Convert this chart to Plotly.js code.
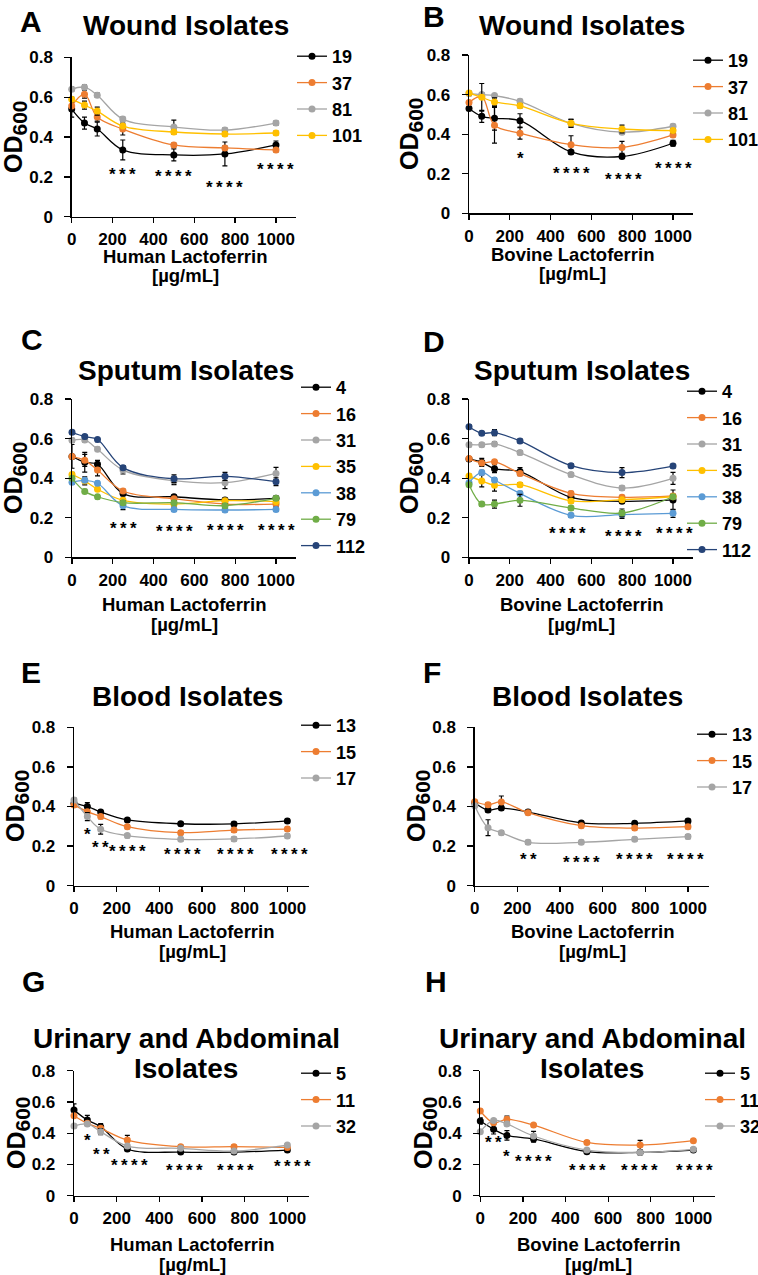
<!DOCTYPE html>
<html>
<head>
<meta charset="utf-8">
<script src="https://cdn.plot.ly/plotly-3.0.1.min.js"></script>
<style>
  html, body { margin: 0; padding: 0; background: #fff; }
  #chart { width: 758px; height: 1275px; }
</style>
</head>
<body>
<div id="chart"></div>
<script>
const W = 758, H = 1275;
const FONT = 'Liberation Sans, Arial, sans-serif';
const COLORS = ['#000000', '#ED7D31', '#A5A5A5', '#FFC000', '#5B9BD5', '#70AD47', '#264478'];

// lactoferrin dose, µg/mL
const DOSE = [0, 62.5, 125, 250, 500, 750, 1000];

// A - wound isolates, human LF
const woundIds = ['19', '37', '81', '101'];
const woundHumanMean = [
  [0.54, 0.47, 0.44, 0.335, 0.31, 0.315, 0.36],
  [0.555, 0.615, 0.50, 0.44, 0.36, 0.345, 0.335],
  [0.64, 0.65, 0.61, 0.49, 0.45, 0.435, 0.47],
  [0.59, 0.56, 0.53, 0.455, 0.425, 0.415, 0.42],
];
const woundHumanErr = [
  [0.04, 0.03, 0.035, 0.05, 0.03, 0.06, 0.02],
  [0.02, 0.02, 0.02, 0.03, 0.01, 0.01, 0.01],
  [0.01, 0.01, 0.01, 0.01, 0.035, 0.01, 0.01],
  [0.01, 0.02, 0.02, 0.01, 0.01, 0.01, 0.01],
];
const woundHumanSigX = [250, 500, 750, 1000];
const woundHumanSigY = [0.234, 0.221, 0.167, 0.259];
const woundHumanSig = ['***', '****', '****', '****'];

// B - wound isolates, bovine LF
const woundBovineMean = [
  [0.53, 0.49, 0.48, 0.468, 0.31, 0.287, 0.354],
  [0.56, 0.59, 0.445, 0.405, 0.347, 0.333, 0.396],
  [0.605, 0.60, 0.595, 0.566, 0.455, 0.41, 0.44],
  [0.608, 0.586, 0.563, 0.543, 0.455, 0.426, 0.418],
];
const woundBovineErr = [
  [0.01, 0.03, 0.06, 0.035, 0.01, 0.01, 0.015],
  [0.01, 0.01, 0.09, 0.03, 0.045, 0.03, 0.01],
  [0.01, 0.01, 0.01, 0.01, 0.02, 0.01, 0.01],
  [0.01, 0.07, 0.02, 0.01, 0.02, 0.02, 0.01],
];
const woundBovineSigX = [252, 502, 758, 1000];
const woundBovineSigY = [0.295, 0.219, 0.19, 0.249];
const woundBovineSig = ['*', '****', '****', '****'];

// C - sputum isolates, human LF
const sputumIds = ['4', '16', '31', '35', '38', '79', '112'];
const sputumHumanMean = [
  [0.51, 0.48, 0.47, 0.322, 0.306, 0.29, 0.298],
  [0.509, 0.49, 0.441, 0.335, 0.296, 0.269, 0.269],
  [0.591, 0.593, 0.546, 0.441, 0.387, 0.377, 0.424],
  [0.419, 0.386, 0.344, 0.288, 0.269, 0.286, 0.281],
  [0.379, 0.389, 0.374, 0.261, 0.242, 0.239, 0.242],
  [0.399, 0.333, 0.306, 0.276, 0.276, 0.261, 0.298],
  [0.632, 0.61, 0.595, 0.453, 0.397, 0.409, 0.382],
];
const sputumHumanErr = [
  [0.06, 0.05, 0.02, 0.01, 0.01, 0.01, 0.01],
  [0.01, 0.03, 0.03, 0.01, 0.01, 0.01, 0.01],
  [0.01, 0.01, 0.01, 0.02, 0.02, 0.03, 0.03],
  [0.01, 0.02, 0.01, 0.01, 0.01, 0.01, 0.01],
  [0.01, 0.01, 0.01, 0.02, 0.01, 0.01, 0.01],
  [0.01, 0.01, 0.01, 0.01, 0.01, 0.01, 0.01],
  [0.01, 0.01, 0.01, 0.01, 0.02, 0.02, 0.02],
];
const sputumHumanSigX = [250, 500, 750, 1000];
const sputumHumanSigY = [0.167, 0.152, 0.155, 0.155];
const sputumHumanSig = ['***', '****', '****', '****'];

// D - sputum isolates, bovine LF
const sputumBovineMean = [
  [0.497, 0.48, 0.448, 0.433, 0.303, 0.283, 0.29],
  [0.499, 0.477, 0.483, 0.424, 0.323, 0.303, 0.31],
  [0.569, 0.569, 0.573, 0.529, 0.418, 0.35, 0.399],
  [0.411, 0.386, 0.364, 0.367, 0.285, 0.291, 0.306],
  [0.377, 0.429, 0.391, 0.323, 0.212, 0.216, 0.222],
  [0.367, 0.269, 0.269, 0.288, 0.249, 0.224, 0.306],
  [0.66, 0.627, 0.63, 0.588, 0.463, 0.428, 0.461],
];
const sputumBovineErr = [
  [0.01, 0.02, 0.02, 0.02, 0.01, 0.01, 0.05],
  [0.01, 0.01, 0.01, 0.01, 0.01, 0.01, 0.01],
  [0.01, 0.01, 0.01, 0.01, 0.01, 0.01, 0.03],
  [0.01, 0.03, 0.03, 0.01, 0.01, 0.01, 0.01],
  [0.01, 0.01, 0.01, 0.01, 0.01, 0.02, 0.02],
  [0.01, 0.01, 0.02, 0.03, 0.01, 0.02, 0.01],
  [0.01, 0.01, 0.015, 0.01, 0.01, 0.025, 0.01],
];
const sputumBovineSigX = [485, 755, 1005];
const sputumBovineSigY = [0.138, 0.126, 0.138];
const sputumBovineSig = ['****', '****', '****'];

// E - blood isolates, human LF
const bloodIds = ['13', '15', '17'];
const bloodHumanMean = [
  [0.416, 0.40, 0.372, 0.332, 0.313, 0.312, 0.327],
  [0.408, 0.374, 0.349, 0.298, 0.268, 0.281, 0.286],
  [0.433, 0.349, 0.285, 0.253, 0.234, 0.236, 0.251],
];
const bloodHumanErr = [
  [0.01, 0.02, 0.01, 0.01, 0.01, 0.01, 0.01],
  [0.01, 0.01, 0.01, 0.01, 0.01, 0.01, 0.01],
  [0.01, 0.02, 0.025, 0.01, 0.01, 0.01, 0.01],
];
const bloodHumanSigX = [64, 122, 252, 509, 755, 1009];
const bloodHumanSigY = [0.278, 0.214, 0.194, 0.177, 0.18, 0.177];
const bloodHumanSig = ['*', '**', '****', '****', '****', '****'];

// F - blood isolates, bovine LF
const bloodBovineMean = [
  [0.419, 0.382, 0.392, 0.372, 0.317, 0.315, 0.327],
  [0.424, 0.409, 0.423, 0.369, 0.303, 0.291, 0.298],
  [0.404, 0.293, 0.268, 0.219, 0.219, 0.234, 0.248],
];
const bloodBovineErr = [
  [0.01, 0.01, 0.01, 0.01, 0.01, 0.01, 0.01],
  [0.01, 0.01, 0.03, 0.01, 0.01, 0.01, 0.01],
  [0.01, 0.04, 0.01, 0.01, 0.01, 0.01, 0.01],
];
const bloodBovineSigX = [250, 503, 750, 989];
const bloodBovineSigY = [0.152, 0.138, 0.152, 0.152];
const bloodBovineSig = ['**', '****', '****', '****'];

// G - urinary and abdominal isolates, human LF
const uaIds = ['5', '11', '32'];
const uaHumanMean = [
  [0.548, 0.484, 0.442, 0.299, 0.279, 0.279, 0.292],
  [0.512, 0.463, 0.431, 0.356, 0.314, 0.314, 0.309],
  [0.446, 0.459, 0.41, 0.318, 0.303, 0.286, 0.324],
];
const uaHumanErr = [
  [0.04, 0.03, 0.02, 0.01, 0.01, 0.01, 0.01],
  [0.01, 0.01, 0.01, 0.03, 0.01, 0.01, 0.01],
  [0.01, 0.01, 0.02, 0.01, 0.01, 0.01, 0.01],
];
const uaHumanSigX = [64, 130, 259, 516, 755, 1025];
const uaHumanSigY = [0.378, 0.292, 0.218, 0.186, 0.19, 0.211];
const uaHumanSig = ['*', '**', '****', '****', '****', '****'];

// H - urinary and abdominal isolates, bovine LF
const uaBovineMean = [
  [0.478, 0.425, 0.386, 0.363, 0.282, 0.277, 0.292],
  [0.542, 0.467, 0.489, 0.452, 0.341, 0.324, 0.352],
  [0.41, 0.482, 0.459, 0.382, 0.292, 0.277, 0.297],
];
const uaBovineErr = [
  [0.02, 0.03, 0.03, 0.02, 0.01, 0.01, 0.01],
  [0.01, 0.01, 0.02, 0.01, 0.01, 0.03, 0.01],
  [0.01, 0.01, 0.01, 0.03, 0.01, 0.01, 0.01],
];
const uaBovineSigX = [63, 125, 249, 503, 749, 1005];
const uaBovineSigY = [0.363, 0.275, 0.243, 0.186, 0.186, 0.186];
const uaBovineSig = ['**', '*', '****', '****', '****', '****'];

// panel placement in page pixels: box = [left, right, top(0.8), bottom(0)]
const panels = [
  { letter: 'A', letterAt: [31, 22], title: ['Wound Isolates'], titleAt: [[186, 25]], xt: 'Human Lactoferrin', xtAt: [185, 256],
    ytAt: [15, 137], box: [71.7, 296.4, 57.3, 216.7], leg: [292, 38],
    ids: woundIds, mean: woundHumanMean, err: woundHumanErr, sx: woundHumanSigX, sy: woundHumanSigY, s: woundHumanSig },
  { letter: 'B', letterAt: [434, 17], title: ['Wound Isolates'], titleAt: [[582, 25]], xt: 'Bovine Lactoferrin', xtAt: [572, 254],
    ytAt: [411, 134], box: [469, 693.4, 55, 213.3], leg: [688, 42],
    ids: woundIds, mean: woundBovineMean, err: woundBovineErr, sx: woundBovineSigX, sy: woundBovineSigY, s: woundBovineSig },
  { letter: 'C', letterAt: [32, 340], title: ['Sputum Isolates'], titleAt: [[186, 370]], xt: 'Human Lactoferrin', xtAt: [184, 604],
    ytAt: [15, 478], box: [72, 296.4, 399, 557.3], leg: [296, 369],
    ids: sputumIds, mean: sputumHumanMean, err: sputumHumanErr, sx: sputumHumanSigX, sy: sputumHumanSigY, s: sputumHumanSig },
  { letter: 'D', letterAt: [434, 341], title: ['Sputum Isolates'], titleAt: [[582, 370]], xt: 'Bovine Lactoferrin', xtAt: [581, 604],
    ytAt: [411, 478], box: [469, 693.4, 399, 557.3], leg: [682, 373],
    ids: sputumIds, mean: sputumBovineMean, err: sputumBovineErr, sx: sputumBovineSigX, sy: sputumBovineSigY, s: sputumBovineSig },
  { letter: 'E', letterAt: [31, 672], title: ['Blood Isolates'], titleAt: [[187, 696]], xt: 'Human Lactoferrin', xtAt: [192, 931],
    ytAt: [17, 806], box: [74, 308.7, 727.3, 885.7], leg: [296, 707],
    ids: bloodIds, mean: bloodHumanMean, err: bloodHumanErr, sx: bloodHumanSigX, sy: bloodHumanSigY, s: bloodHumanSig },
  { letter: 'F', letterAt: [432, 672], title: ['Blood Isolates'], titleAt: [[587, 696]], xt: 'Bovine Lactoferrin', xtAt: [592, 931],
    ytAt: [418, 806], box: [474.7, 709.3, 727.3, 885.7], leg: [692, 716],
    ids: bloodIds, mean: bloodBovineMean, err: bloodBovineErr, sx: bloodBovineSigX, sy: bloodBovineSigY, s: bloodBovineSig },
  { letter: 'G', letterAt: [33, 981], title: ['Urinary and Abdominal', 'Isolates'], titleAt: [[186, 1038], [186, 1068]], xt: 'Human Lactoferrin', xtAt: [192, 1244],
    ytAt: [18, 1133], box: [74, 308.7, 1070.7, 1195.7], leg: [296, 1055],
    ids: uaIds, mean: uaHumanMean, err: uaHumanErr, sx: uaHumanSigX, sy: uaHumanSigY, s: uaHumanSig },
  { letter: 'H', letterAt: [436, 982], title: ['Urinary and Abdominal', 'Isolates'], titleAt: [[592, 1038], [592, 1068]], xt: 'Bovine Lactoferrin', xtAt: [598, 1244],
    ytAt: [425, 1133], box: [480.3, 714.7, 1070.7, 1195.7], leg: [700, 1055],
    ids: uaIds, mean: uaBovineMean, err: uaBovineErr, sx: uaBovineSigX, sy: uaBovineSigY, s: uaBovineSig },
];

const px = x => x / W;
const py = y => 1 - y / H;
const bold = (size) => ({ family: FONT, size: size, weight: 'bold', color: '#000' });

const traces = [];
const annotations = [];
const layout = {
  width: W, height: H,
  margin: { l: 0, r: 0, t: 0, b: 0, autoexpand: false },
  paper_bgcolor: '#fff', plot_bgcolor: 'rgba(0,0,0,0)',
  font: { family: FONT, color: '#000' },
  annotations: annotations,
};

function paperText(text, x, y, size, extra) {
  annotations.push(Object.assign({
    text: text, xref: 'paper', yref: 'paper', x: px(x), y: py(y),
    xanchor: 'center', yanchor: 'middle', showarrow: false, font: bold(size),
  }, extra || {}));
}

panels.forEach((p, i) => {
  const sfx = i === 0 ? '' : String(i + 1);
  const xa = 'x' + sfx, ya = 'y' + sfx, leg = 'legend' + sfx;

  const axisBase = {
    showline: true, linecolor: '#000', linewidth: 1.3,
    ticks: 'outside', ticklen: 5, tickwidth: 1.3, tickcolor: '#000',
    showgrid: false, zeroline: false, fixedrange: true,
    tickfont: bold(17),
  };
  layout['xaxis' + sfx] = Object.assign({}, axisBase, {
    domain: [px(p.box[0]), px(p.box[1])], anchor: ya,
    range: [0, 1100], tickvals: [0, 200, 400, 600, 800, 1000],
    ticklabelstandoff: 2,
  });
  layout['yaxis' + sfx] = Object.assign({}, axisBase, {
    domain: [py(p.box[3]), py(p.box[2])], anchor: xa,
    range: [0, 0.8], tick0: 0, dtick: 0.2, ticklen: 6,
    ticklabelstandoff: 8,
  });
  layout[leg] = {
    x: px(p.leg[0]), y: py(p.leg[1]), xanchor: 'left', yanchor: 'top',
    xref: 'paper', yref: 'paper',
    bgcolor: 'rgba(0,0,0,0)', borderwidth: 0,
    font: bold(18), itemwidth: 30, tracegroupgap: 0,
  };

  p.ids.forEach((id, k) => {
    const c = COLORS[k];
    traces.push({
      type: 'scatter', mode: 'lines+markers', name: id,
      x: DOSE, y: p.mean[k], xaxis: xa, yaxis: ya, legend: leg,
      line: { color: c, width: 1.3, shape: 'spline', smoothing: 1 },
      marker: { color: c, size: 7 },
      error_y: { type: 'data', array: p.err[k], visible: true, color: '#000', thickness: 1.2, width: 2.5 },
      cliponaxis: false, hoverinfo: 'skip',
    });
  });

  // significance stars, thin-spaced
  p.sx.forEach((x, k) => {
    annotations.push({
      text: p.s[k].split('').join('\u2009'), xref: xa, yref: ya, x: x, y: p.sy[k],
      xanchor: 'center', yanchor: 'middle', yshift: -4, showarrow: false,
      font: { family: FONT, size: 17, weight: 'bold', color: '#000' },
    });
  });

  paperText(p.letter, p.letterAt[0], p.letterAt[1], 30);
  p.title.forEach((t, k) => paperText(t, p.titleAt[k][0], p.titleAt[k][1], 28));
  paperText(p.xt, p.xtAt[0], p.xtAt[1], 18.5);
  paperText('[µg/mL]', p.xtAt[0], p.xtAt[1] + 20, 18.5);
  paperText('OD<sub><span style="font-size:21px">600</span></sub>', p.ytAt[0], p.ytAt[1], 25, { textangle: -90 });
});

Plotly.newPlot('chart', traces, layout, { displayModeBar: false, staticPlot: true });
</script>
</body>
</html>
